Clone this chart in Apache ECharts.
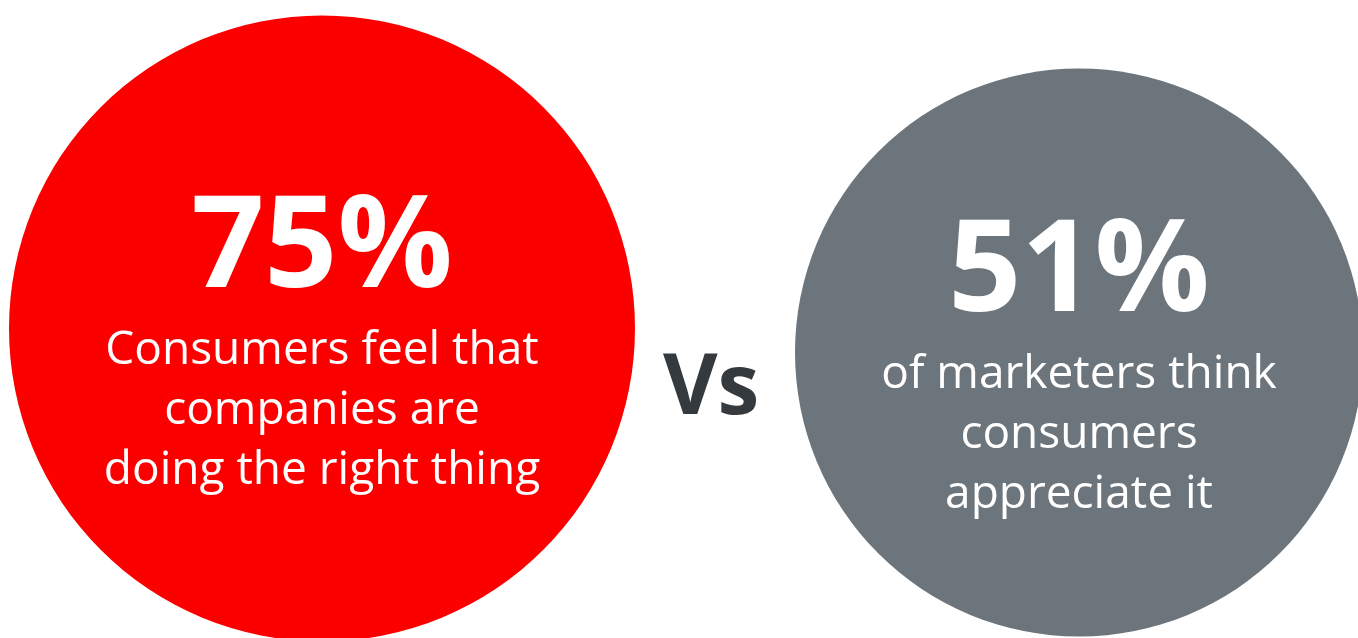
<!DOCTYPE html>
<html>
<head>
<meta charset="utf-8">
<script src="https://cdn.jsdelivr.net/npm/echarts@6/dist/echarts.min.js"></script>
<style>
  html, body { margin: 0; padding: 0; background: #ffffff; }
  #chart { width: 1358px; height: 638px; }
</style>
</head>
<body>
<div id="chart"></div>
<script>
// Two survey figures shown side by side as large discs
const groups = ['Consumers', 'Marketers'];
const percents = [75, 51];
const captions = [
  'Consumers feel that\ncompanies are\ndoing the right thing',
  'of marketers think\nconsumers\nappreciate it'
];
const discColors = ['#fc0000', '#6c747c'];
const discDiameters = [626, 568];
const discShift = [[0, -12], [0, 12]];

const chart = echarts.init(document.getElementById('chart'), null, { renderer: 'canvas' });

const FONT = '"Open Sans", "Noto Sans", sans-serif';

chart.setOption({
  backgroundColor: '#ffffff',
  animation: false,
  grid: { left: 322, right: 279, top: 340, bottom: 297, containLabel: false },
  xAxis: {
    type: 'category',
    data: groups,
    boundaryGap: false,
    show: false
  },
  yAxis: { type: 'value', min: -1, max: 1, show: false },
  graphic: [{
    type: 'text',
    left: 663,
    top: 348,
    style: {
      text: 'Vs',
      fill: '#353a3f',
      font: 'bold 84px ' + FONT
    }
  }],
  series: [{
    type: 'scatter',
    symbol: 'circle',
    data: groups.map((g, i) => ({
      name: g,
      value: [g, 0],
      pct: percents[i],
      symbolSize: discDiameters[i],
      symbolOffset: discShift[i],
      itemStyle: { color: discColors[i], opacity: 1 },
      label: { offset: [0, 12] }
    })),
    itemStyle: { opacity: 1 },
    label: {
      show: true,
      position: 'inside',
      align: 'center',
      verticalAlign: 'middle',
      formatter: p => '{big|' + percents[p.dataIndex] + '%}\n{sub|' +
        captions[p.dataIndex].split('\n').join('}\n{sub|') + '}',
      rich: {
        big: {
          color: '#ffffff', fontFamily: FONT, fontWeight: 'bold',
          fontSize: 128, lineHeight: 140, align: 'center'
        },
        sub: {
          color: '#ffffff', fontFamily: FONT, fontWeight: 'normal',
          fontSize: 46, lineHeight: 60, align: 'center'
        }
      }
    },
    emphasis: { disabled: true },
    z: 2
  }]
});
</script>
</body>
</html>
